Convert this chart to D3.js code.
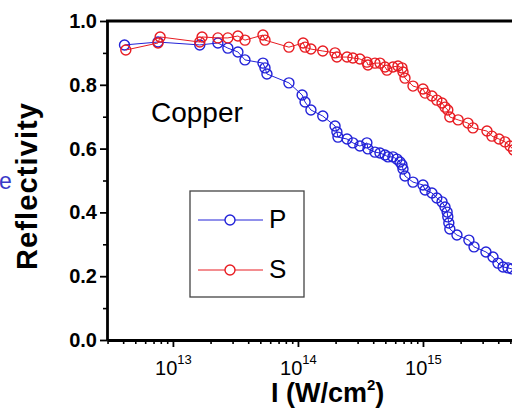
<!DOCTYPE html>
<html>
<head>
<meta charset="utf-8">
<script src="https://cdn.jsdelivr.net/npm/d3@7"></script>
<style>
  body { margin: 0; background: #fff; }
  svg { display: block; font-family: Arial, "Liberation Sans", sans-serif; }
</style>
</head>
<body>
<div class="graph"></div>
<script>
// intensity (W/cm2) and reflectivity
var pIntensity = [4.1e12, 7.6e12, 1.64e13, 2.29e13, 2.75e13, 3.31e13, 3.77e13, 5.25e13, 5.45e13, 5.65e13,
  8.47e13, 1.08e14, 1.14e14, 1.27e14, 1.58e14, 1.98e14, 2.05e14, 2.09e14, 2.47e14, 2.75e14,
  3.13e14, 3.56e14, 3.63e14, 4.13e14, 4.53e14, 4.97e14, 5.25e14, 5.75e14, 6.19e14, 6.55e14,
  6.79e14, 6.92e14, 7.18e14, 8.32e14, 1.0e15, 1.04e15, 1.18e15, 1.29e15, 1.42e15, 1.5e15,
  1.56e15, 1.58e15, 1.61e15, 1.64e15, 1.87e15, 2.33e15, 2.56e15, 3.19e15, 3.63e15, 3.98e15,
  4.37e15, 4.79e15, 5.15e15, 5.7e15];
var pReflect = [0.925, 0.934, 0.925, 0.931, 0.915, 0.903, 0.878, 0.868, 0.853, 0.834,
  0.806, 0.768, 0.746, 0.721, 0.702, 0.671, 0.652, 0.636, 0.630, 0.618,
  0.608, 0.618, 0.599, 0.589, 0.586, 0.580, 0.574, 0.574, 0.567, 0.558,
  0.549, 0.536, 0.514, 0.495, 0.486, 0.470, 0.461, 0.445, 0.433, 0.417,
  0.401, 0.386, 0.367, 0.348, 0.329, 0.313, 0.292, 0.276, 0.260, 0.241,
  0.229, 0.226, 0.223, 0.216];

var sIntensity = [4.2e12, 7.6e12, 7.9e12, 1.64e13, 1.71e13, 2.29e13, 2.75e13, 3.31e13, 3.77e13, 5.25e13,
  5.45e13, 8.47e13, 1.1e14, 1.14e14, 1.27e14, 1.58e14, 1.98e14, 2.05e14, 2.47e14, 2.75e14,
  3.13e14, 3.56e14, 3.63e14, 4.13e14, 4.53e14, 4.97e14, 5.15e14, 5.75e14, 6.31e14, 6.79e14,
  6.92e14, 7.18e14, 8.32e14, 1.0e15, 1.04e15, 1.18e15, 1.29e15, 1.42e15, 1.5e15, 1.58e15,
  1.64e15, 1.91e15, 2.29e15, 2.51e15, 3.25e15, 3.56e15, 4.06e15, 4.53e15, 4.97e15, 5.3e15];
var sReflect = [0.909, 0.931, 0.950, 0.934, 0.950, 0.947, 0.947, 0.953, 0.940, 0.956,
  0.940, 0.918, 0.931, 0.918, 0.912, 0.906, 0.900, 0.887, 0.887, 0.884,
  0.881, 0.871, 0.862, 0.868, 0.868, 0.856, 0.846, 0.856, 0.859, 0.853,
  0.840, 0.821, 0.796, 0.787, 0.774, 0.765, 0.752, 0.743, 0.730, 0.721,
  0.699, 0.690, 0.680, 0.665, 0.655, 0.639, 0.630, 0.621, 0.608, 0.596];

var seriesNames = ['P', 'S'];
var seriesColors = ['#2222d8', '#e81c22'];
var yTicks = [0, 0.2, 0.4, 0.6, 0.8, 1.0];
var yMinor = [0.1, 0.3, 0.5, 0.7, 0.9];
var xTicks = [1e13, 1e14, 1e15];
var xTickExp = ['13', '14', '15'];

var W = 512, H = 409;
var plot = {left: 107, top: 21, bottom: 340, right: 548};

var svg = d3.select('.graph').append('svg')
  .attr('width', W)
  .attr('height', H);

var xScale = d3.scaleLog().domain([2.97e12, 1e16]).range([plot.left, plot.right]);
var yScale = d3.scaleLinear().domain([0, 1]).range([plot.bottom, plot.top]);

var series = [
  {name: seriesNames[0], color: seriesColors[0], pts: pIntensity.map(function(v, i) { return {x: v, y: pReflect[i]}; })},
  {name: seriesNames[1], color: seriesColors[1], pts: sIntensity.map(function(v, i) { return {x: v, y: sReflect[i]}; })}
];

// fragments of the neighbouring panel, cut by the left edge
svg.append('text').attr('x', -1).attr('y', 189).attr('fill', '#3a3ac8')
  .style('font-size', '23px').text('e');
svg.append('text').attr('x', -6).attr('y', 369).attr('fill', '#b02040')
  .style('font-size', '20px').text('t');

// minor ticks
var xMinor = [];
[1e12, 1e13, 1e14, 1e15].forEach(function(dec) {
  for (var k = 2; k <= 9; k++) {
    var v = k * dec;
    if (v > 2.97e12 && v < 1e16) xMinor.push(v);
  }
});

svg.append('g')
  .attr('transform', 'translate(0,' + plot.bottom + ')')
  .call(d3.axisBottom(xScale).tickValues(xMinor).tickSize(4).tickSizeOuter(0).tickFormat(''))
  .call(function(g) { g.select('.domain').remove(); g.selectAll('line').attr('stroke-width', 1.6); });

svg.append('g')
  .attr('transform', 'translate(' + plot.left + ',0)')
  .call(d3.axisLeft(yScale).tickValues(yMinor).tickSize(4).tickSizeOuter(0).tickFormat(''))
  .call(function(g) { g.select('.domain').remove(); g.selectAll('line').attr('stroke-width', 1.6); });

// major axes
var xAxis = svg.append('g')
  .attr('transform', 'translate(0,' + plot.bottom + ')')
  .call(d3.axisBottom(xScale).tickValues(xTicks).tickSize(7).tickSizeOuter(0).tickFormat(''));
xAxis.select('.domain').attr('stroke-width', 2.8);
xAxis.selectAll('line').attr('stroke-width', 1.8);
xAxis.selectAll('.tick').append('text')
  .attr('y', 35).attr('fill', '#000')
  .attr('text-anchor', 'middle')
  .style('font-size', '20px')
  .each(function(d, i) {
    var t = d3.select(this);
    t.append('tspan').text('10');
    t.append('tspan').attr('dy', -11).style('font-size', '13px').text(xTickExp[i]);
  });

var yAxis = svg.append('g')
  .attr('transform', 'translate(' + plot.left + ',0)')
  .call(d3.axisLeft(yScale).tickValues(yTicks).tickSize(7).tickSizeOuter(0).tickPadding(3)
    .tickFormat(d3.format('.1f')));
yAxis.select('.domain').attr('stroke-width', 2.8);
yAxis.selectAll('line').attr('stroke-width', 1.8);
yAxis.selectAll('text').attr('fill', '#000')
  .style('font-size', '20px').style('font-weight', 'bold');

// top frame
svg.append('line')
  .attr('x1', plot.left - 1).attr('x2', plot.right)
  .attr('y1', plot.top).attr('y2', plot.top)
  .attr('stroke', '#000').attr('stroke-width', 2.8);

// series
var line = d3.line()
  .x(function(d) { return xScale(d.x); })
  .y(function(d) { return yScale(d.y); });

var gs = svg.selectAll('.series').data(series).enter().append('g').attr('class', 'series');
gs.append('path')
  .attr('d', function(d) { return line(d.pts); })
  .attr('fill', 'none')
  .attr('stroke', function(d) { return d.color; })
  .attr('stroke-width', 1);
gs.each(function(s) {
  d3.select(this).selectAll('circle').data(s.pts).enter().append('circle')
    .attr('cx', function(d) { return xScale(d.x); })
    .attr('cy', function(d) { return yScale(d.y); })
    .attr('r', 5)
    .attr('fill', 'none')
    .attr('stroke', s.color)
    .attr('stroke-width', 1.4);
});

// labels
svg.append('text')
  .attr('x', 151).attr('y', 122)
  .style('font-size', '28px')
  .text('Copper');

svg.append('text')
  .attr('transform', 'translate(37,270) rotate(-90)')
  .attr('textLength', 167).attr('lengthAdjust', 'spacing')
  .style('font-size', '29px').style('font-weight', 'bold')
  .text('Reflectivity');

var xt = svg.append('text')
  .attr('x', 271).attr('y', 402)
  .style('font-size', '27px').style('font-weight', 'bold');
xt.append('tspan').text('I (W/cm');
xt.append('tspan').attr('dy', -12).style('font-size', '15px').text('2');
xt.append('tspan').attr('dy', 12).text(')');

// legend
var legend = svg.append('g');
legend.append('rect')
  .attr('x', 190).attr('y', 191).attr('width', 114).attr('height', 106)
  .attr('fill', '#fff').attr('stroke', '#444').attr('stroke-width', 1.3);
var li = legend.selectAll('.li').data(series).enter().append('g')
  .attr('transform', function(d, i) { return 'translate(0,' + (220 + i * 50) + ')'; });
li.append('line')
  .attr('x1', 198).attr('x2', 263)
  .attr('stroke', function(d) { return d.color; }).attr('stroke-width', 1);
li.append('circle')
  .attr('cx', 230).attr('r', 5)
  .attr('fill', '#fff')
  .attr('stroke', function(d) { return d.color; }).attr('stroke-width', 1.4);
li.append('text')
  .attr('x', 269).attr('y', 8)
  .style('font-size', '26px')
  .text(function(d) { return d.name; });
</script>
</body>
</html>
